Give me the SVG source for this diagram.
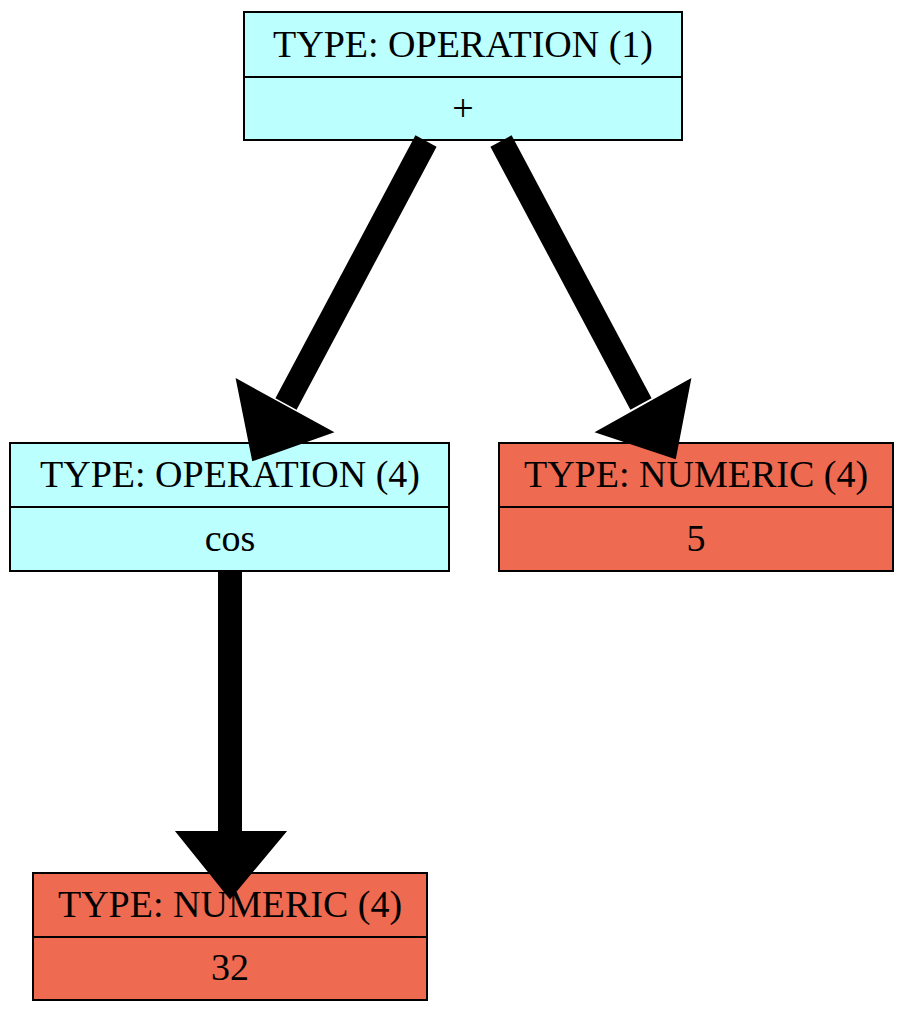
<svg xmlns="http://www.w3.org/2000/svg" width="906" height="1014" viewBox="0 0 906 1014">
<style>
.op{fill:#bbffff;stroke:#000;stroke-width:2}
.num{fill:#ee6a50;stroke:#000;stroke-width:2}
.div{stroke:#000;stroke-width:2}
text{font-family:"Liberation Serif","Times New Roman",serif;font-size:38px;text-anchor:middle;fill:#000}
.edge{stroke:#000;stroke-width:24;fill:none}
.head{fill:#000;stroke:#000;stroke-width:2}
</style>
<rect x="0" y="0" width="906" height="1014" fill="#fff"/>
<g id="node1">
<rect class="op" x="244" y="12" width="438" height="128"/>
<line class="div" x1="244" y1="77" x2="682" y2="77"/>
<text x="463" y="57">TYPE: OPERATION (1)</text>
<text x="463" y="121">+</text>
</g>
<g id="node2">
<rect class="op" x="10" y="443" width="439" height="128"/>
<line class="div" x1="10" y1="507" x2="449" y2="507"/>
<text x="230" y="487">TYPE: OPERATION (4)</text>
<text x="230" y="551">cos</text>
</g>
<g id="node3">
<rect class="num" x="499" y="443" width="394" height="128"/>
<line class="div" x1="499" y1="507" x2="893" y2="507"/>
<text x="696" y="487">TYPE: NUMERIC (4)</text>
<text x="696" y="551">5</text>
</g>
<g id="node4">
<rect class="num" x="33" y="873" width="394" height="127"/>
<line class="div" x1="33" y1="937" x2="427" y2="937"/>
<text x="230" y="917">TYPE: NUMERIC (4)</text>
<text x="230" y="980">32</text>
</g>
<g id="connectors">
<line class="edge" x1="426" y1="141" x2="286" y2="404"/>
<polygon class="head" points="237,380 253,460 332,432"/>
<line class="edge" x1="501" y1="141" x2="641" y2="404"/>
<polygon class="head" points="690,380 675,458 597,432"/>
<line class="edge" x1="230" y1="571" x2="230" y2="834"/>
<polygon class="head" points="177,832 285,832 230,898"/>
</g>
</svg>
